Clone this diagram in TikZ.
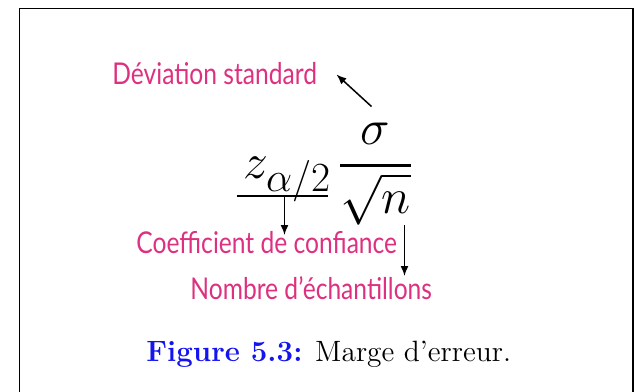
\documentclass[tikz,border=0pt]{standalone}
\usepackage{amsmath,amssymb}
\usepackage{fontspec}
\usepackage{xcolor}
\usepackage{tikz}
\usetikzlibrary{positioning,arrows.meta,calc}
\newfontfamily\handfont[FakeStretch=0.82]{Lato}
\definecolor{noteclr}{RGB}{222,48,128}
\definecolor{capclr}{RGB}{20,20,240}
\tikzset{
  note/.style={anchor=base west,inner sep=0pt,text=noteclr,
               font=\handfont\fontsize{15}{18}\selectfont},
  eq/.style={inner sep=0pt,font=\fontsize{28}{32}\selectfont},
  ptr/.style={-{Latex[length=5pt,width=4pt]},line width=0.75pt},
  frame/.style={line width=0.6pt},
}

\begin{document}
\begin{tikzpicture}[x=0.5pt,y=-0.5pt]
\useasboundingbox (0,0) rectangle (634,392);
% frame, open at the bottom
\draw[frame] (19.5,392) -- (19.5,8.5) -- (633,8.5) -- (633,392);

% formula
\node[eq,anchor=base west] (zq) at (243,178) {$z_{\alpha/2}$};
\node[eq,base right=3pt of zq] (frac) {$\dfrac{\sigma}{\sqrt{n}}$};

% labels
\node[note] (dev) at (112,84) {Déviation standard};
\node[note] (coef) at (136,253) {Coefficient de confiance};
\node[note] (nb) at (190,299) {Nombre d’échantillons};

\coordinate (sgT) at (371.5,106.5);
\coordinate (devP) at (336.5,74.5);
\coordinate (ulA) at (237,196);
\coordinate (ulB) at (328,196);
\coordinate (ulM) at (284.5,196);
\coordinate (coefP) at (284.5,235);
\coordinate (nT) at (404.5,225);
\coordinate (nbP) at (404.5,276);

\draw[ptr] (sgT) -- (devP);
\draw[line width=0.75pt] (ulA) -- (ulB);
\draw[ptr] (ulM) -- (coefP);
\draw[ptr] (nT) -- (nbP);

% caption
\node[anchor=base west,inner sep=0pt,font=\fontsize{14.7}{18}\selectfont] (cap) at (146,361)
  {\textcolor{capclr}{\textbf{Figure 5.3:}} Marge d’erreur.};
\end{tikzpicture}
\end{document}
